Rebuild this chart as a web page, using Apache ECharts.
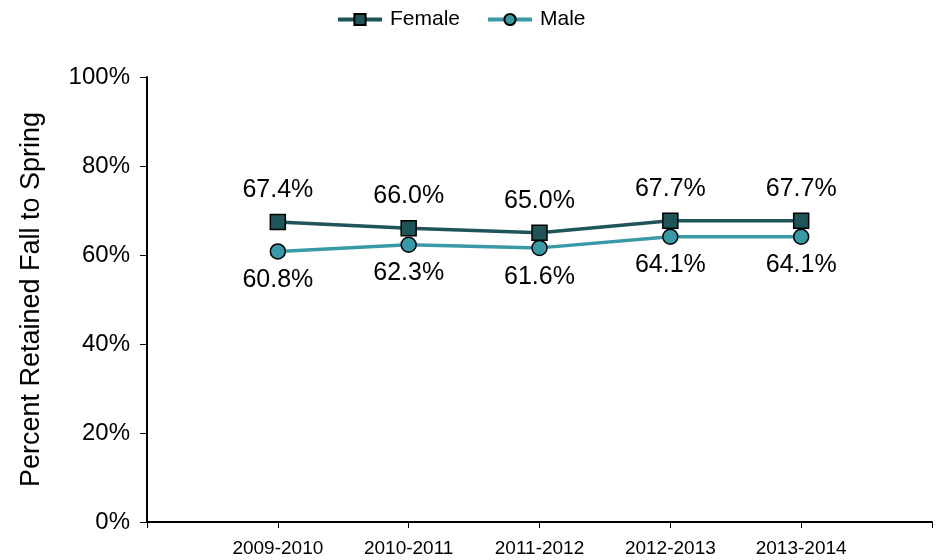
<!DOCTYPE html>
<html><head><meta charset="utf-8">
<script src="https://cdn.jsdelivr.net/npm/echarts@6/dist/echarts.min.js"></script>
<style>html,body{margin:0;padding:0;background:#fff}#c{width:937px;height:560px}</style>
</head><body><div id="c"></div>
<script>
var categories = ['2009-2010','2010-2011','2011-2012','2012-2013','2013-2014'];
var femaleValues = [67.4, 66.0, 65.0, 67.7, 67.7];
var maleValues = [60.8, 62.3, 61.6, 64.1, 64.1];
var yTicks = [0, 20, 40, 60, 80, 100];

var axisCats = [''].concat(categories).concat(['']);
var font = 'Liberation Sans, Arial, sans-serif';
var chart = echarts.init(document.getElementById('c'));
chart.setOption({
  animation: false,
  legend: {
    top: 4, left: 331, itemGap: 26, itemWidth: 44, itemHeight: 14,
    lineStyle: {width: 4},
    textStyle: {fontFamily: font, fontSize: 21, color: '#000', padding: [0, 0, 0, 3]},
    data: ['Female', 'Male']
  },
  grid: {left: 147, right: 5, top: 77, bottom: 38},
  xAxis: {
    type: 'category', data: axisCats, boundaryGap: false,
    axisLine: {lineStyle: {color: '#000', width: 2}},
    axisTick: {show: true, length: 6, lineStyle: {color: '#000', width: 1}},
    axisLabel: {fontFamily: font, fontSize: 19, color: '#000', margin: 17, interval: 0},
    splitLine: {show: false}
  },
  yAxis: {
    type: 'value', min: 0, max: 100, interval: 20,
    name: 'Percent Retained Fall to Spring', nameLocation: 'middle', nameGap: 102,
    nameTextStyle: {fontFamily: font, fontSize: 27, color: '#000'},
    axisLine: {show: true, lineStyle: {color: '#000', width: 2}},
    axisTick: {show: true, length: 7, lineStyle: {color: '#000', width: 1}},
    axisLabel: {fontFamily: font, fontSize: 24, color: '#000', margin: 17,
      formatter: function(v){ return yTicks.indexOf(v) >= 0 ? v + '%' : ''; }},
    splitLine: {show: false}
  },
  series: [
    {
      name: 'Female', type: 'line',
      data: [null].concat(femaleValues).concat([null]),
      symbol: 'rect', symbolSize: 15,
      lineStyle: {color: '#1f5459', width: 3.5},
      itemStyle: {color: '#1f5459', borderColor: '#000', borderWidth: 1.5},
      label: {show: true, position: 'top', distance: 11, fontFamily: font, fontSize: 25, color: '#000',
        formatter: function(p){ return p.value.toFixed(1) + '%'; }},
      z: 3
    },
    {
      name: 'Male', type: 'line',
      data: [null].concat(maleValues).concat([null]),
      symbol: 'circle', symbolSize: 15,
      lineStyle: {color: '#3a99a6', width: 3.5},
      itemStyle: {color: '#3a99a6', borderColor: '#000', borderWidth: 1.5},
      label: {show: true, position: 'bottom', distance: 8, fontFamily: font, fontSize: 25, color: '#000',
        formatter: function(p){ return p.value.toFixed(1) + '%'; }},
      z: 2
    }
  ]
});
</script></body></html>
